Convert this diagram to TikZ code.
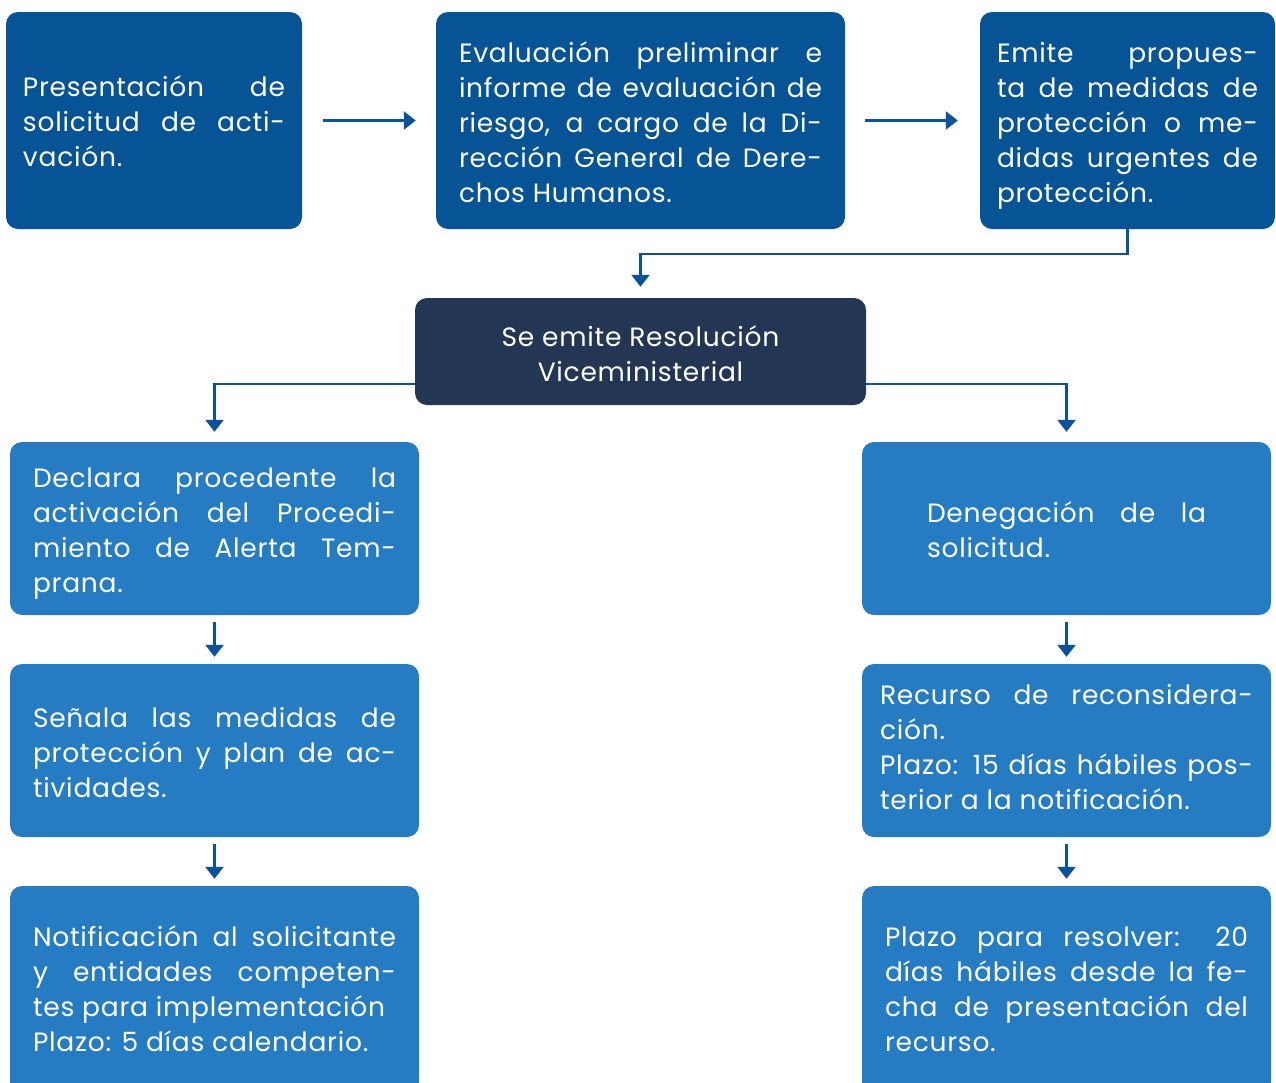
\documentclass[tikz,border=0pt]{standalone}
\usepackage{fontspec}
\setmainfont[LetterSpace=2.8]{Poppins}
\usetikzlibrary{arrows.meta}
\definecolor{topblue}{RGB}{6,83,150}
\definecolor{navy}{RGB}{35,55,85}
\definecolor{lightblue}{RGB}{38,124,195}
\definecolor{arrowblue}{RGB}{10,82,153}
\hyphenpenalty=10000
\tolerance=10000
\pretolerance=-1
\hbadness=10000
\hfuzz=20pt
\begin{document}
\begin{tikzpicture}[x=1pt,y=-1pt,
  boxbase/.style={rounded corners=12pt, inner sep=0pt},
  topbox/.style={boxbase, fill=topblue},
  navybox/.style={boxbase, fill=navy},
  lowbox/.style={boxbase, fill=lightblue},
  txt/.style={inner sep=0pt, text=white, font=\fontsize{26.5}{35}\selectfont, align=justify},
  arr/.style={draw=arrowblue, line width=2.5pt, -{Triangle[width=18pt,length=12pt]}}]
\useasboundingbox (0,0) rectangle (1276,1082);

% top row
\node[topbox, minimum width=296pt, minimum height=217pt] (p) at (154,120.5) {};
\node[txt, text width=262pt] (pt) at ([yshift=-1pt]p.center)
  {Presentación de\linebreak solicitud de acti-\linebreak vación.};
\node[topbox, minimum width=409pt, minimum height=217pt] (v) at (640.5,120.5) {};
\node[txt, text width=363pt] (vt) at ([yshift=-2pt]v.center)
  {Evaluación preliminar e\linebreak informe de evaluación de\linebreak riesgo, a cargo de la Di-\linebreak rección General de Dere-\linebreak chos Humanos.};
\node[topbox, minimum width=295pt, minimum height=217pt] (e) at (1127.5,120.5) {};
\node[txt, text width=261pt] (et) at ([yshift=-5pt]e.center)
  {Emite propues-\linebreak ta de medidas de\linebreak protección o me-\linebreak didas urgentes de\linebreak protección.};

% resolution
\node[navybox, minimum width=451pt, minimum height=107pt] (r) at (640.5,351.5) {};
\node[txt, align=center] (rt) at ([yshift=-2pt]r.center)
  {Se emite Resolución\\Viceministerial};

% left column
\node[lowbox, minimum width=409pt, minimum height=173pt] (d) at (214.5,528.5) {};
\node[txt, text width=363pt] (dt) at ([yshift=-5pt]d.center)
  {Declara procedente la\linebreak activación del Procedi-\linebreak miento de Alerta Tem-\linebreak prana.};
\node[lowbox, minimum width=409pt, minimum height=173pt] (s) at (214.5,750.5) {};
\node[txt, text width=363pt] (st) at ([yshift=-2pt]s.center)
  {Señala las medidas de\linebreak protección y plan de ac-\linebreak tividades.};
\node[lowbox, minimum width=409pt, minimum height=208pt] (nt) at (214.5,990) {};
\node[txt, text width=363pt] (ntt) at ([yshift=1pt]nt.center)
  {Notificación al solicitante\linebreak y entidades competen-\linebreak tes para implementación\newline Plazo: 5 días calendario.};

% right column
\node[lowbox, minimum width=409pt, minimum height=173pt] (n) at (1066.5,528.5) {};
\node[txt, text width=279pt] (ntx) at ([yshift=-1pt]n.center)
  {Denegación de la\linebreak solicitud.};
\node[lowbox, minimum width=409pt, minimum height=173pt] (rc) at (1066.5,750.5) {};
\node[txt, text width=373pt] (rct) at ([yshift=3pt]rc.center)
  {Recurso de reconsidera-\linebreak ción.\newline Plazo: 15 días hábiles pos-\linebreak terior a la notificación.};
\node[lowbox, minimum width=409pt, minimum height=208pt] (pl) at (1066.5,990) {};
\node[txt, text width=363pt] (plt) at ([yshift=1pt]pl.center)
  {Plazo para resolver: 20\linebreak días hábiles desde la fe-\linebreak cha de presentación del\linebreak recurso.};

% connectors
\draw[arr, shorten <=21pt, shorten >=20pt] (p.east) -- (v.west);
\draw[arr, shorten <=20pt, shorten >=22pt] (v.east) -- (e.west);
\draw[arr, shorten >=11pt] (e.south) -- ++(0,25) -| (r.north);
\draw[arr, shorten >=10pt] ([yshift=-32.5pt]r.west) -| (d.north);
\draw[arr, shorten >=10pt] ([yshift=-32.5pt]r.east) -| (n.north);
\draw[arr, shorten <=7pt, shorten >=7pt] (d.south) -- (s.north);
\draw[arr, shorten <=7pt, shorten >=7pt] (s.south) -- (nt.north);
\draw[arr, shorten <=7pt, shorten >=7pt] (n.south) -- (rc.north);
\draw[arr, shorten <=7pt, shorten >=7pt] (rc.south) -- (pl.north);
\end{tikzpicture}
\end{document}
